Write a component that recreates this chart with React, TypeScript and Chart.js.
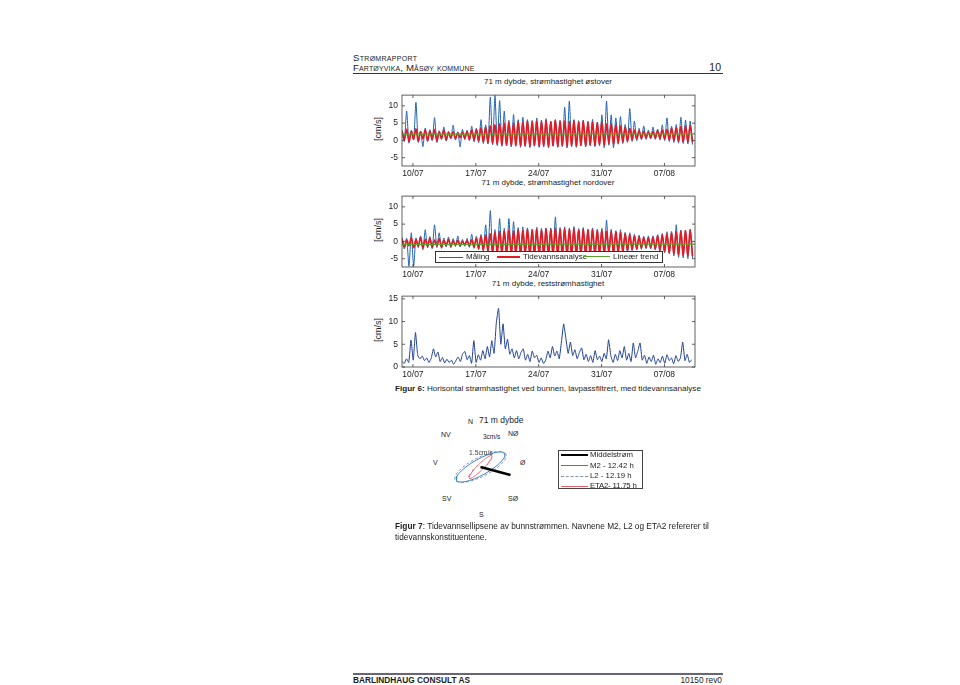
import React, { useEffect, useRef } from "react";
import { Chart, registerables } from "chart.js";
Chart.register(...registerables);

const FONT = "'Liberation Sans', Arial, Helvetica, sans-serif";
const INK = "#1c1c1c";

// ---------- time axis ----------
const xTickDays = [0, 7, 14, 21, 28];
const xTickLabels = ["10/07", "17/07", "24/07", "31/07", "07/08"];
const xMinDay = -1.22;
const xMaxDay = 31.4;
const firstCycleDay = -1.22;
const cycleDays = 0.5175; // semi-diurnal cycle (12.42 h)
const residualStep = 0.25;

const yTicksComponents = [-5, 0, 5, 10];
const yTicksResidual = [0, 5, 10, 15];

// ---------- east component (cm/s), one high + one low per tidal cycle ----------
const eastTidePeaks = [2.8, 3.2, 2.6, 3.3, 2.5, 3.0, 2.7, 3.1, 2.4, 2.9, 2.3, 2.5, 2.2, 2.4, 2.6, 3.0, 3.2, 3.6, 3.8, 4.2, 4.5, 4.8, 5.0, 5.2, 5.0, 5.4, 5.2, 5.5, 5.3, 5.6, 5.4, 5.7, 5.3, 5.8, 5.5, 5.6, 5.4, 5.7, 5.2, 5.5, 5.1, 5.3, 5.0, 5.2, 4.8, 4.9, 4.4, 4.2, 3.8, 3.4, 3.0, 2.8, 2.6, 2.5, 2.6, 2.8, 3.0, 3.2, 3.5, 3.7, 4.0, 4.2, 4.3];
const eastTideTroughs = [0.2, -0.3, 0.4, -0.2, 0.5, 0.0, 0.3, -0.1, 0.6, 0.2, 0.7, 0.5, 0.8, 0.6, 0.4, 0.1, -0.1, -0.4, -0.6, -0.8, -1.0, -1.2, -1.3, -1.4, -1.3, -1.5, -1.4, -1.6, -1.4, -1.6, -1.5, -1.7, -1.4, -1.7, -1.5, -1.6, -1.4, -1.6, -1.3, -1.5, -1.2, -1.4, -1.1, -1.3, -0.9, -1.0, -0.6, -0.4, -0.1, 0.2, 0.4, 0.6, 0.7, 0.8, 0.7, 0.6, 0.4, 0.2, 0.0, -0.2, -0.4, -0.5, -0.6];
const eastMeasPeaks = [3.0, 8.5, 2.9, 11.0, 2.7, 3.6, 3.1, 6.6, 2.8, 3.9, 2.6, 4.4, 2.5, 3.2, 2.9, 4.1, 3.5, 6.0, 4.5, 12.5, 13.0, 11.5, 8.5, 5.8, 7.5, 6.0, 6.7, 6.0, 5.8, 6.5, 5.9, 6.3, 5.6, 6.0, 5.8, 9.6, 11.4, 6.0, 5.7, 5.9, 5.6, 6.1, 5.3, 7.4, 11.4, 7.4, 6.5, 6.9, 4.6, 9.2, 5.6, 3.5, 4.2, 3.0, 3.9, 3.3, 4.5, 6.5, 4.1, 4.6, 6.7, 5.9, 5.6];
const eastMeasTroughs = [-0.3, -0.8, 0.1, -0.6, -1.8, -0.4, 0.0, -0.6, 0.3, -0.2, 0.4, 0.1, -1.9, 0.2, -0.1, -0.4, -0.7, -0.9, -1.0, -1.3, -1.5, -1.7, -1.6, -1.9, -1.7, -2.0, -1.8, -2.1, -1.7, -2.0, -1.9, -2.1, -1.7, -2.0, -1.8, -2.2, -1.8, -2.0, -1.6, -1.9, -1.6, -1.8, -1.6, -2.1, -1.4, -2.2, -1.1, -0.9, -0.6, -0.3, -0.1, 0.2, 0.3, 0.4, 0.3, 0.1, -0.1, -0.3, -0.6, -0.8, -0.9, -1.0, -1.2];
const eastTrend = [1.8, 1.9];

// ---------- north component (cm/s) ----------
const northTidePeaks = [0.8, 0.4, 1.0, 0.5, 1.1, 0.6, 0.9, 0.4, 0.8, 0.3, 0.6, 0.2, 0.3, 0.0, 0.2, 0.5, 0.9, 1.4, 1.8, 2.2, 2.5, 2.8, 3.0, 3.2, 3.0, 3.3, 3.1, 3.4, 3.2, 3.5, 3.3, 3.6, 3.4, 3.7, 3.5, 3.6, 3.4, 3.6, 3.3, 3.5, 3.2, 3.4, 3.1, 3.2, 2.9, 3.0, 2.7, 2.5, 2.2, 1.9, 1.6, 1.3, 1.1, 1.0, 1.2, 1.5, 1.8, 2.1, 2.4, 2.7, 2.9, 3.1, 3.2];
const northTideTroughs = [-1.6, -1.2, -1.8, -1.3, -1.9, -1.4, -1.7, -1.3, -1.6, -1.2, -1.4, -1.1, -1.2, -1.0, -1.3, -1.6, -2.0, -2.4, -2.7, -3.0, -3.2, -3.4, -3.5, -3.6, -3.5, -3.8, -3.6, -3.9, -3.7, -3.9, -3.8, -4.0, -3.8, -4.1, -3.9, -4.0, -3.8, -4.0, -3.7, -3.9, -3.6, -3.8, -3.5, -3.6, -3.3, -3.4, -3.1, -2.9, -2.6, -2.3, -2.1, -1.9, -1.7, -1.8, -2.1, -2.5, -2.9, -3.2, -3.5, -3.8, -4.0, -4.2, -4.3];
const northMeasPeaks = [1.2, 0.9, 2.5, 1.0, 1.6, 3.4, 1.4, 4.8, 2.5, 1.0, 1.3, 0.8, 1.6, 0.6, 0.9, 2.1, 1.5, 2.0, 4.8, 8.9, 3.4, 6.6, 3.8, 6.6, 5.7, 4.0, 4.2, 3.9, 3.6, 4.1, 3.8, 3.9, 3.9, 7.1, 4.0, 4.2, 3.9, 4.3, 3.7, 4.0, 3.6, 3.9, 3.5, 3.8, 6.2, 3.5, 3.1, 3.4, 2.6, 2.5, 2.0, 1.8, 1.5, 1.6, 1.6, 2.0, 2.3, 2.8, 2.9, 4.8, 3.3, 3.0, 3.6];
const northMeasTroughs = [-2.2, -7.2, -7.2, -1.8, -2.4, -1.9, -2.1, -1.8, -2.0, -1.6, -1.8, -1.5, -1.6, -1.4, -1.7, -2.0, -2.4, -2.8, -3.1, -3.4, -3.6, -3.8, -3.9, -4.0, -3.9, -4.2, -4.0, -4.3, -4.1, -4.3, -4.2, -4.4, -4.2, -4.5, -4.3, -4.4, -4.2, -4.4, -4.1, -4.3, -4.0, -4.2, -3.9, -4.0, -3.7, -3.8, -3.5, -3.3, -3.0, -2.7, -2.5, -2.3, -2.1, -2.2, -2.5, -2.9, -3.3, -3.6, -4.2, -4.6, -4.8, -5.0, -4.9];
const northTrend = [-0.9, -0.8];

// ---------- residual speed (cm/s), every 6 h ----------
const residualSpeed = [1.2, 0.8, 1.8, 1.0, 5.9, 1.5, 7.6, 2.6, 1.8, 2.4, 1.4, 2.0, 1.0, 1.9, 4.0, 2.2, 3.3, 1.2, 2.1, 0.9, 1.7, 1.0, 1.5, 0.6, 1.4, 2.2, 1.2, 2.9, 3.4, 1.6, 2.5, 0.8, 5.8, 1.0, 2.7, 1.5, 3.6, 1.8, 4.5, 2.2, 5.8, 3.0, 9.7, 12.9, 5.0, 9.5, 4.0, 6.1, 2.8, 4.0, 2.0, 3.6, 1.8, 3.2, 4.0, 1.5, 2.8, 1.2, 3.5, 2.0, 2.6, 1.0, 2.0, 0.8, 1.5, 3.5, 2.0, 4.5, 2.4, 3.5, 1.8, 5.5, 9.5, 6.2, 3.0, 5.5, 2.5, 3.8, 1.8, 3.2, 4.2, 1.6, 2.8, 1.2, 2.5, 1.0, 3.6, 1.6, 2.4, 1.2, 3.0, 1.8, 6.0, 2.5, 1.0, 2.8, 1.4, 3.6, 2.0, 4.5, 1.5, 3.0, 1.2, 5.3, 2.0, 3.5, 5.3, 1.5, 2.6, 0.8, 2.2, 1.2, 2.6, 0.6, 1.8, 1.0, 2.4, 0.8, 2.7, 1.4, 2.0, 0.7, 2.5, 1.2, 2.0, 5.5, 1.4, 2.8, 1.0, 1.6];

// ---------- tidal ellipses (cm/s, degrees from east) ----------
const ellipseNames = ["M2  - 12.42 h", "L2  - 12.19 h", "ETA2- 11.75 h"];
const ellipseMajor = [2.75, 2.85, 1.6];
const ellipseMinor = [0.8, 0.95, 0.3];
const ellipseInclination = [29, 27, 45];
const meanCurrent = [3.0, -0.8]; // east, north

const BLUE = "#1f63b0";
const RED = "#e51b24";
const GREEN = "#5aa02c";

function tidalSeries(peaks: number[], troughs: number[]) {
  const pts: { x: number; y: number }[] = [];
  peaks.forEach((p, k) => {
    const t = firstCycleDay + k * cycleDays;
    pts.push({ x: t, y: p });
    pts.push({ x: t + cycleDays / 2, y: troughs[k] });
  });
  return pts;
}

const framePlugin = {
  id: "matlabFrame",
  afterDraw(chart: any) {
    const { ctx, chartArea: a, scales } = chart;
    ctx.save();
    ctx.strokeStyle = "#3a3a3a";
    ctx.lineWidth = 0.8;
    ctx.strokeRect(a.left, a.top, a.right - a.left, a.bottom - a.top);
    ctx.beginPath();
    const L = 3;
    scales.x.ticks.forEach((t: any) => {
      const px = scales.x.getPixelForValue(t.value);
      ctx.moveTo(px, a.bottom);
      ctx.lineTo(px, a.bottom - L);
      ctx.moveTo(px, a.top);
      ctx.lineTo(px, a.top + L);
    });
    scales.y.ticks.forEach((t: any) => {
      const py = scales.y.getPixelForValue(t.value);
      ctx.moveTo(a.left, py);
      ctx.lineTo(a.left + L, py);
      ctx.moveTo(a.right, py);
      ctx.lineTo(a.right - L, py);
    });
    ctx.stroke();
    ctx.restore();
  },
};

function TimeChart(props: {
  top: number;
  datasets: any[];
  yMin: number;
  yMax: number;
  yTicks: number[];
}) {
  const ref = useRef<HTMLCanvasElement>(null);
  useEffect(() => {
    const chart = new Chart(ref.current as HTMLCanvasElement, {
      type: "line",
      data: { datasets: props.datasets },
      options: {
        responsive: false,
        animation: false,
        layout: { padding: { top: 4, right: 5, left: 0, bottom: 0 } },
        plugins: { legend: { display: false }, tooltip: { enabled: false } },
        elements: { point: { radius: 0 } },
        scales: {
          x: {
            type: "linear",
            min: xMinDay,
            max: xMaxDay,
            grid: { display: false, drawTicks: false },
            border: { display: false },
            afterBuildTicks: (s: any) => {
              s.ticks = xTickDays.map((v) => ({ value: v }));
            },
            afterFit: (s: any) => {
              s.height = 16;
            },
            ticks: {
              font: { family: FONT, size: 8.5 },
              color: INK,
              padding: 3,
              maxRotation: 0,
              autoSkip: false,
              callback: (v: any) => {
                const i = xTickDays.indexOf(Number(v));
                return i >= 0 ? xTickLabels[i] : "";
              },
            },
          },
          y: {
            type: "linear",
            min: props.yMin,
            max: props.yMax,
            grid: { display: false, drawTicks: false },
            border: { display: false },
            afterBuildTicks: (s: any) => {
              s.ticks = props.yTicks.map((v) => ({ value: v }));
            },
            afterFit: (s: any) => {
              s.width = 42;
            },
            ticks: {
              font: { family: FONT, size: 8.5 },
              color: INK,
              padding: 4,
              autoSkip: false,
            },
          },
        },
      } as any,
      plugins: [framePlugin],
    });
    return () => chart.destroy();
  }, []);
  return (
    <canvas
      ref={ref}
      width={340}
      height={96}
      style={{ position: "absolute", left: 360, top: props.top, width: 340, height: 96 }}
    />
  );
}

function EllipseChart() {
  const ref = useRef<HTMLCanvasElement>(null);
  useEffect(() => {
    const colors = ["#3a7fc8", "#8796a6", "#e4606a"];
    const dashes = [[], [3, 2], []];
    const ellipseSets = ellipseMajor.map((maj, i) => {
      const inc = (ellipseInclination[i] * Math.PI) / 180;
      const pts: { x: number; y: number }[] = [];
      for (let a = 0; a <= 360; a += 6) {
        const r = (a * Math.PI) / 180;
        const u = maj * Math.cos(r);
        const v = ellipseMinor[i] * Math.sin(r);
        pts.push({ x: u * Math.cos(inc) - v * Math.sin(inc), y: u * Math.sin(inc) + v * Math.cos(inc) });
      }
      return {
        data: pts,
        showLine: true,
        borderColor: colors[i],
        borderWidth: 1,
        borderDash: dashes[i],
        pointRadius: 0,
        tension: 0,
      };
    });
    const chart = new Chart(ref.current as HTMLCanvasElement, {
      type: "scatter",
      data: {
        datasets: [
          {
            data: [
              { x: 0, y: 0 },
              { x: meanCurrent[0], y: meanCurrent[1] },
            ],
            showLine: true,
            borderColor: "#000",
            borderWidth: 2.6,
            pointRadius: 0,
          },
          ...ellipseSets,
        ],
      },
      options: {
        responsive: false,
        animation: false,
        layout: { padding: 0 },
        plugins: { legend: { display: false }, tooltip: { enabled: false } },
        scales: {
          x: { type: "linear", display: false, min: -5.25, max: 5.95 },
          y: { type: "linear", display: false, min: -5.5, max: 5.5 },
        },
      } as any,
    });
    return () => chart.destroy();
  }, []);
  return (
    <canvas
      ref={ref}
      width={112}
      height={110}
      style={{ position: "absolute", left: 428, top: 412, width: 112, height: 110 }}
    />
  );
}

function Txt(props: {
  x: number;
  y: number;
  size: number;
  children: any;
  bold?: boolean;
  align?: "left" | "center" | "right";
  w?: number;
  style?: any;
}) {
  const w = props.w ?? 400;
  const align = props.align ?? "left";
  const left = align === "left" ? props.x : align === "center" ? props.x - w / 2 : props.x - w;
  return (
    <div
      style={{
        position: "absolute",
        left,
        top: props.y,
        width: w,
        textAlign: align,
        fontFamily: FONT,
        fontSize: props.size,
        lineHeight: `${props.size}px`,
        fontWeight: props.bold ? "bold" : "normal",
        color: INK,
        whiteSpace: "nowrap",
        ...props.style,
      }}
    >
      {props.children}
    </div>
  );
}

function YLabel({ cy }: { cy: number }) {
  return (
    <div
      style={{
        position: "absolute",
        left: 378 - 20,
        top: cy - 5,
        width: 40,
        height: 10,
        textAlign: "center",
        fontFamily: FONT,
        fontSize: 9,
        lineHeight: "10px",
        color: INK,
        transform: "rotate(-90deg)",
      }}
    >
      [cm/s]
    </div>
  );
}

function LegendLine({ x, y, w, color, width, dash }: any) {
  return (
    <div
      style={{
        position: "absolute",
        left: x,
        top: y - width / 2,
        width: w,
        height: 0,
        borderTop: `${width}px ${dash ? "dashed" : "solid"} ${color}`,
      }}
    />
  );
}

export default function App() {
  const eastSets = [
    { data: [{ x: xMinDay, y: eastTrend[0] }, { x: xMaxDay, y: eastTrend[1] }], borderColor: GREEN, borderWidth: 1.2 },
    { data: tidalSeries(eastTidePeaks, eastTideTroughs), borderColor: RED, borderWidth: 1.7, tension: 0.3 },
    { data: tidalSeries(eastMeasPeaks, eastMeasTroughs), borderColor: BLUE, borderWidth: 1, tension: 0.2 },
  ];
  const northSets = [
    { data: [{ x: xMinDay, y: northTrend[0] }, { x: xMaxDay, y: northTrend[1] }], borderColor: GREEN, borderWidth: 1.2 },
    { data: tidalSeries(northTidePeaks, northTideTroughs), borderColor: RED, borderWidth: 1.7, tension: 0.3 },
    { data: tidalSeries(northMeasPeaks, northMeasTroughs), borderColor: BLUE, borderWidth: 1, tension: 0.2 },
  ];
  const residualSets = [
    {
      data: residualSpeed.map((v, i) => ({ x: firstCycleDay + i * residualStep, y: v })),
      borderColor: "#1d3f92",
      borderWidth: 1,
      tension: 0.15,
    },
  ];

  return (
    <div
      style={{
        position: "absolute",
        left: 0,
        top: 0,
        width: 960,
        height: 685,
        background: "#fff",
        overflow: "hidden",
      }}
    >
      {/* header */}
      <Txt x={353} y={53} size={9.6} style={{ fontVariant: "small-caps", letterSpacing: "0.3px" }}>Strømrapport</Txt>
      <Txt x={353} y={63} size={9.6} style={{ fontVariant: "small-caps", letterSpacing: "0.15px" }}>Fartøyvika, Måsøy kommune</Txt>
      <Txt x={721} y={62} size={10.5} align="right" w={40}>10</Txt>
      <div style={{ position: "absolute", left: 353, top: 72.5, width: 370, height: 1, background: "#333" }} />

      {/* chart titles */}
      <Txt x={548} y={78} size={8} align="center" w={320}>71 m dybde, strømhastighet østover</Txt>
      <Txt x={548} y={179} size={8} align="center" w={320}>71 m dybde, strømhastighet nordover</Txt>
      <Txt x={548} y={280} size={8} align="center" w={320}>71 m dybde, reststrømhastighet</Txt>

      <YLabel cy={129} />
      <YLabel cy={230} />
      <YLabel cy={330} />

      <TimeChart top={86} datasets={eastSets} yMin={-7.4} yMax={13.1} yTicks={yTicksComponents} />
      <TimeChart top={187} datasets={northSets} yMin={-7.4} yMax={13.1} yTicks={yTicksComponents} />
      <TimeChart top={287} datasets={residualSets} yMin={0} yMax={15.6} yTicks={yTicksResidual} />

      {/* legend of middle chart */}
      <div
        style={{
          position: "absolute",
          left: 435,
          top: 251,
          width: 228,
          height: 12,
          background: "#fff",
          border: "0.8px solid #333",
          boxSizing: "border-box",
        }}
      />
      <LegendLine x={439} y={257} w={24} color={BLUE} width={1} />
      <Txt x={466} y={253} size={8}>Måling</Txt>
      <LegendLine x={497} y={257} w={23} color={RED} width={2} />
      <Txt x={523} y={253} size={8}>Tidevannsanalyse</Txt>
      <LegendLine x={583} y={257} w={27} color={GREEN} width={1.5} />
      <Txt x={613} y={253} size={8}>Lineær trend</Txt>

      {/* figure 6 caption */}
      <Txt x={395} y={385} size={8.1}>
        <b>Figur 6:</b> Horisontal strømhastighet ved bunnen, lavpassfiltrert, med tidevannsanalyse
      </Txt>

      {/* ellipse figure */}
      <Txt x={468} y={418} size={7}>N</Txt>
      <Txt x={479} y={416} size={8.5}>71 m dybde</Txt>
      <Txt x={441} y={431} size={7}>NV</Txt>
      <Txt x={483} y={434} size={6.5}>3cm/s</Txt>
      <Txt x={508} y={430} size={7}>NØ</Txt>
      <Txt x={433} y={459} size={7}>V</Txt>
      <Txt x={520} y={459} size={7}>Ø</Txt>
      <Txt x={442} y={495} size={7}>SV</Txt>
      <Txt x={508} y={495} size={7}>SØ</Txt>
      <Txt x={479} y={511} size={7}>S</Txt>
      <EllipseChart />
      <Txt x={469} y={450} size={6.8} style={{ color: "#444" }}>1.5cm/s</Txt>

      {/* ellipse legend */}
      <div
        style={{
          position: "absolute",
          left: 558,
          top: 450,
          width: 85,
          height: 39,
          background: "#fff",
          border: "0.8px solid #444",
          boxSizing: "border-box",
        }}
      />
      <LegendLine x={561} y={455} w={27} color="#000" width={2.4} />
      <Txt x={590} y={451} size={7.8}>Middelstrøm</Txt>
      <LegendLine x={561} y={465.5} w={27} color="#3a7fc8" width={1} />
      <Txt x={590} y={461.5} size={7.8}>{ellipseNames[0]}</Txt>
      <LegendLine x={561} y={476} w={27} color="#8796a6" width={1} dash />
      <Txt x={590} y={472} size={7.8}>{ellipseNames[1]}</Txt>
      <LegendLine x={561} y={486} w={27} color="#e4606a" width={1} />
      <Txt x={590} y={482} size={7.8} style={{ letterSpacing: "-0.2px" }}>{ellipseNames[2]}</Txt>

      {/* figure 7 caption */}
      <Txt x={395} y={522} size={8.3}>
        <b>Figur 7</b>: Tidevannsellipsene av bunnstrømmen. Navnene M2, L2 og ETA2 refererer til
      </Txt>
      <Txt x={395} y={533} size={8.3}>tidevannskonstituentene.</Txt>

      {/* footer */}
      <div style={{ position: "absolute", left: 353, top: 673, width: 370, height: 1.5, background: "#667" }} />
      <Txt x={353} y={676} size={8.3} bold>BARLINDHAUG CONSULT AS</Txt>
      <Txt x={722} y={676} size={8.3} align="right" w={80}>10150 rev0</Txt>
    </div>
  );
}
